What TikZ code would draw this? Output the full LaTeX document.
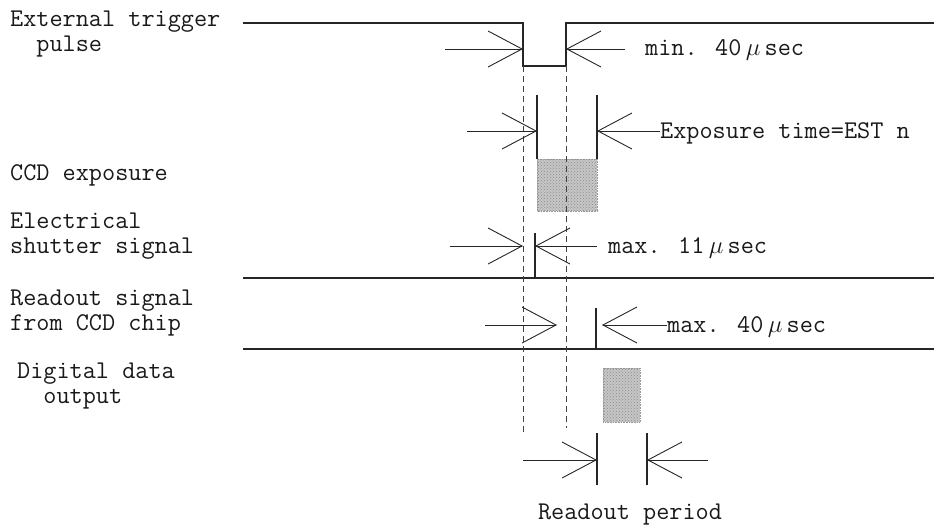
\documentclass[tikz,border=0pt]{standalone}
\usepackage{fontspec}
\usetikzlibrary{arrows.meta,patterns}

\begin{document}
\begin{tikzpicture}[x=1pt, y=-1pt,
  sig/.style={line width=1.1pt, black!85},
  dim/.style={-{Straight Barb[length=34pt,width=36pt]}, line width=0.9pt, black!85},
  guide/.style={black!75, line width=0.8pt, dash pattern=on 6pt off 4pt},
  lbl/.style={font=\fontsize{25.5}{28}\ttfamily, text=black!90, anchor=base west, inner sep=0pt},
  shade/.style={fill=gray!45, draw=gray!80, line width=0.6pt, densely dotted,
    postaction={pattern=crosshatch dots, pattern color=gray!90}},
]
\useasboundingbox (0,0) rectangle (934,527);

% === SIGNAL NAMES ===
\node[lbl] (trg1) at (10,27) {External trigger};
\node[lbl] (trg2) at (10,52) {\ \ pulse};
\node[lbl] (ccd)  at (10,180) {CCD exposure};
\node[lbl] (sht1) at (10,228) {Electrical};
\node[lbl] (sht2) at (10,253) {shutter signal};
\node[lbl] (rd1)  at (10,305) {Readout signal};
\node[lbl] (rd2)  at (10,330) {from CCD chip};
\node[lbl] (dig1) at (17,378) {Digital data};
\node[lbl] (dig2) at (17,403) {\ \ output};

% === WAVEFORMS ===
\draw[sig] (243,23) -| (523,66) -| (566,23) -- (934,23);
\draw[sig] (243,278) -- (934,278);
\draw[sig] (243,349) -- (934,349);
\draw[sig] (537,95) -- (537,159);
\draw[sig] (597,95) -- (597,159);
\draw[sig] (535,233) -- (535,278);
\draw[sig] (596,308) -- (596,349);
\draw[sig] (597,433) -- (597,485);
\draw[sig] (647,433) -- (647,485);

\draw[shade] (537,159) rectangle (597,211);
\draw[shade] (603,368) rectangle (640,422);

\draw[guide] (523,66) -- (523,435);
\draw[guide] (566,66) -- (566,428);

% === TIMING LABELS ===
\node[lbl] (tmin)  at (645,56)  {min. 40\,$\mu$\,sec};
\node[lbl] (texp)  at (660,138) {Exposure time=EST n};
\node[lbl] (tsht)  at (608,253) {max. 11\,$\mu$\,sec};
\node[lbl] (trd)   at (667,332) {max. 40\,$\mu$\,sec};
\node[lbl, anchor=base] (tper) at (630,519) {Readout period};

% === DIMENSION ARROWS ===
\coordinate (p1a) at (445,49);  \coordinate (p1b) at (523,49);
\coordinate (p1c) at (625,49);  \coordinate (p1d) at (566,49);
\coordinate (e1a) at (467,131); \coordinate (e1b) at (537,131);
\coordinate (e1d) at (597,131);
\coordinate (s1a) at (450,246); \coordinate (s1b) at (523,246);
\coordinate (s1c) at (597,246); \coordinate (s1d) at (535,246);
\coordinate (r1a) at (485,325); \coordinate (r1b) at (557,325);
\coordinate (r1d) at (602,325);
\coordinate (o1a) at (523,460); \coordinate (o1b) at (597,460);
\coordinate (o1c) at (708,460); \coordinate (o1d) at (647,460);

\draw[dim] (p1a) -- (p1b);
\draw[dim] (p1c) -- (p1d);
\draw[dim] (e1a) -- (e1b);
\draw[dim] (texp.west |- e1d) -- (e1d);
\draw[dim] (s1a) -- (s1b);
\draw[dim] (s1c) -- (s1d);
\draw[dim] (r1a) -- (r1b);
\draw[dim] (trd.west |- r1d) -- (r1d);
\draw[dim] (o1a) -- (o1b);
\draw[dim] (o1c) -- (o1d);
\end{tikzpicture}
\end{document}
